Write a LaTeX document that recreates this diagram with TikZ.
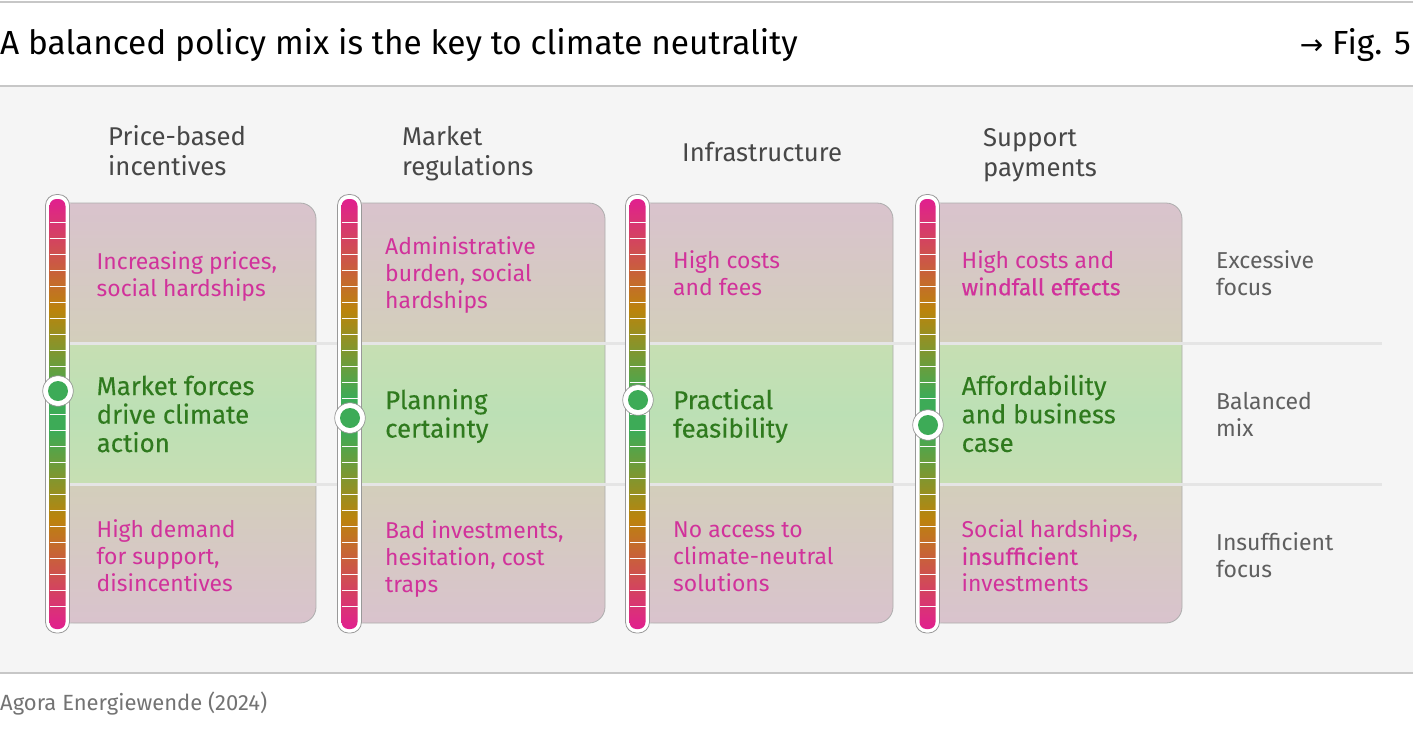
\documentclass[tikz,border=0pt]{standalone}
\usepackage{fontspec}
\setmainfont{Fira Sans}
\newfontfamily\heavyfont[FakeBold=0.4]{Fira Sans}
\newfontfamily\midfont[FakeBold=0.25]{Fira Sans}
\newfontfamily\arrowfont{DejaVu Sans}
\definecolor{barPink}{HTML}{E11F8F}
\definecolor{barOrange}{HTML}{BB840C}
\definecolor{barGreen}{HTML}{3DAB57}
\definecolor{cardPink}{HTML}{D9C3CD}
\definecolor{cardSand}{HTML}{D3CEBB}
\definecolor{cardLime}{HTML}{C7DFB3}
\definecolor{cardGreen}{HTML}{BCE0B5}
\definecolor{textPink}{HTML}{D1329B}
\definecolor{textGreen}{HTML}{2F7A1E}
\definecolor{textGrey}{HTML}{5F5F5F}
\pgfdeclareverticalshading{barshade}{100bp}{color(0bp)=(barPink); color(25bp)=(barPink); color(37.9bp)=(barOrange); color(48bp)=(barGreen); color(52bp)=(barGreen); color(62.1bp)=(barOrange); color(75bp)=(barPink); color(100bp)=(barPink)}

\begin{document}
\begin{tikzpicture}[x=1pt, y=-1pt,
						every node/.style={inner sep=0pt, anchor=west, align=left},
						heading/.style={font=\fontsize{25.7}{30}\selectfont, text=black!72},
						excess/.style={font=\fontsize{22.9}{27}\selectfont, text=textPink},
						balanced/.style={font=\midfont\fontsize{25.8}{28.5}\selectfont, text=textGreen},
						level/.style={font=\fontsize{23}{27}\selectfont, text=textGrey},
						rule/.style={draw=black!22, line width=1.5pt},
						band/.style={draw=black!10, line width=3pt}]
					\useasboundingbox (0,0) rectangle (1413,732);

					\fill [black!4] (0,87) rectangle (1413,673);
					\draw [rule] (0,2) -- (1413,2);
					\draw [rule] (0,86) -- (1413,86);
					\draw [rule] (0,673) -- (1413,673);

					\node (title) at (0,45) {\fontsize{33.4}{36}\selectfont A balanced policy mix is the key to climate neutrality};
					\node [anchor=east] (figref) at (1411,45) {\fontsize{33.4}{36}\selectfont {\arrowfont\fontsize{28}{36}\selectfont →} Fig. 5};
					\node [text=black!55] (source) at (0,704) {\fontsize{22}{24}\selectfont Agora Energiewende (2024)};

					% one card with its tube per column
					\foreach \cx/\r/\my in {57.5/316/391, 349.5/605/418, 637.5/893/400, 927.5/1182/425} {
						\shade [top color=cardPink, bottom color=cardSand, rounded corners=16pt]
							(\r,342) -- (\r,203) -- (\cx,203) -- (\cx,342);
						\shade [top color=cardLime, bottom color=cardLime, middle color=cardGreen]
							(\cx,342) rectangle (\r,485);
						\shade [top color=cardSand, bottom color=cardPink, rounded corners=16pt]
							(\r,485) -- (\r,623) -- (\cx,623) -- (\cx,485);
						\draw [black!32, line width=.8pt, rounded corners=16pt]
							(\cx,203) -- (\r,203) -- (\r,623) -- (\cx,623);
					}

					\draw [band] (57,343) -- (1382,343);
					\draw [band] (57,484) -- (1382,484);

					\foreach \cx/\r/\my in {57.5/316/391, 349.5/605/418, 637.5/893/400, 927.5/1182/425} {
						\draw [fill=white, draw=black!40, line width=.8pt, rounded corners=11pt]
							(\cx-12,194.5) rectangle (\cx+12,633);
						\shade [shading=barshade, rounded corners=7pt]
							(\cx-8,199) rectangle (\cx+8,629);
						\foreach \i in {0,...,24}
							\draw [white!85!black!10, line width=.8pt] (\cx-8,222.3+16*\i) -- (\cx+8,222.3+16*\i);
						\fill [white] (\cx+.5,\my) circle (15);
						\draw [black!40, line width=.7pt] (\cx+.5,\my) circle (15.3);
						\fill [barGreen] (\cx+.5,\my) circle (10);
					}

					\node [heading] (H1) at (108,151) {Price-based\\incentives};
					\node [heading] (H2) at (402,153.5) {Market\\regulations};
					\node [heading] (H3) at (682,152) {Infrastructure};
					\node [heading] (H4) at (983,155) {Support\\payments};

					\node [excess] (T1) at (96.5,276) {Increasing prices,\\social hardships};
					\node [excess] (T2) at (385,275) {Administrative\\burden, social\\hardships};
					\node [excess] (T3) at (673,273.5) {High costs\\and fees};
					\node [excess] (T4) at (961.5,273) {High costs and\\{\heavyfont windfall effects}};

					\node [balanced] (M1) at (96.5,414) {Market forces\\drive climate\\action};
					\node [balanced] (M2) at (385,416) {Planning\\certainty};
					\node [balanced] (M3) at (673,416) {Practical\\feasibility};
					\node [balanced] (M4) at (961.5,413.5) {Affordability\\and business\\case};

					\node [excess] (B1) at (96.5,556) {High demand\\for support,\\disincentives};
					\node [excess] (B2) at (385,558.5) {Bad investments,\\hesitation, cost\\traps};
					\node [excess] (B3) at (673,557) {No access to\\climate-neutral\\solutions};
					\node [excess] (B4) at (961.5,556) {Social hardships,\\{\heavyfont insufficient}\\investments};

					\node [level] (L1) at (1216,273.5) {Excessive\\focus};
					\node [level] (L2) at (1216,414.5) {Balanced\\mix};
					\node [level] (L3) at (1216,555) {Insufficient\\focus};
				\end{tikzpicture}
\end{document}
